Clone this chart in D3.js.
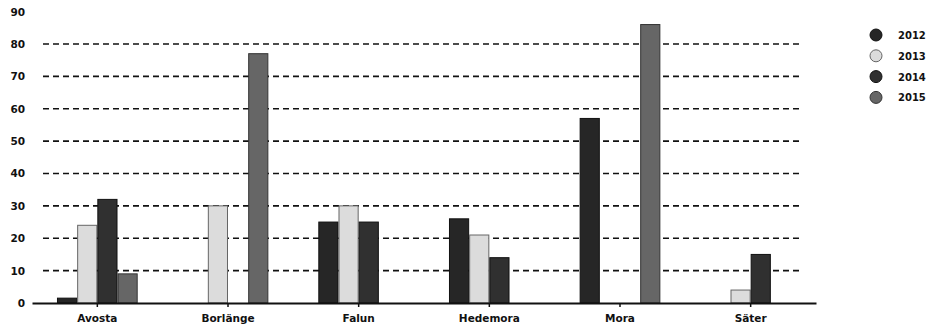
<!DOCTYPE html>
<html>
<head>
<meta charset="utf-8">
<script src="https://cdn.jsdelivr.net/npm/d3@7"></script>
<style>
  html, body { margin: 0; padding: 0; background: #fff; }
  svg { display: block; }
  text { font-family: "DejaVu Sans", "Liberation Sans", sans-serif; font-weight: bold; fill: #111; }
</style>
</head>
<body>
<svg id="chart" width="928" height="325"></svg>
<script>
const categories = ["Avosta", "Borlänge", "Falun", "Hedemora", "Mora", "Säter"];
const years = ["2012", "2013", "2014", "2015"];
const values2012 = [1.5, null, 25, 26, 57, null];
const values2013 = [24, 30, 30, 21, null, 4];
const values2014 = [32, null, 25, 14, null, 15];
const values2015 = [9, 77, null, null, 86, null];
const yTicks = [0, 10, 20, 30, 40, 50, 60, 70, 80, 90];
const gridTicks = [10, 20, 30, 40, 50, 60, 70, 80];

const seriesValues = [values2012, values2013, values2014, values2015];
const colors = ["#262626", "#dcdcdc", "#303030", "#666666"];
const strokes = ["#111", "#666", "#111", "#333"];

const svg = d3.select("#chart");

const x0 = d3.scaleBand().domain(categories).range([32, 816])
  .paddingInner(0.39).paddingOuter(0.195);
const x1 = d3.scaleBand().domain(years).range([0, x0.bandwidth()]).paddingInner(0.05);
const y = d3.scaleLinear().domain([0, 90]).range([303, 11.6]);

// gridlines
svg.append("g").selectAll("line").data(gridTicks).join("line")
  .attr("x1", 43).attr("x2", 803)
  .attr("y1", d => y(d)).attr("y2", d => y(d))
  .attr("stroke", "#111").attr("stroke-width", 1.6)
  .attr("stroke-dasharray", "6,4");

// y labels
svg.append("g").selectAll("text").data(yTicks).join("text")
  .attr("x", 25).attr("y", d => y(d) + 4)
  .attr("text-anchor", "end")
  .attr("font-size", 10.5)
  .text(d => d);

// bars
const rows = [];
categories.forEach((c, i) => {
  years.forEach((yr, j) => {
    const v = seriesValues[j][i];
    if (v !== null) rows.push({ c, yr, v, j });
  });
});
svg.append("g").selectAll("rect").data(rows).join("rect")
  .attr("x", d => x0(d.c) + x1(d.yr))
  .attr("width", x1.bandwidth())
  .attr("y", d => y(d.v))
  .attr("height", d => y(0) - y(d.v))
  .attr("fill", d => colors[d.j])
  .attr("stroke", d => strokes[d.j])
  .attr("stroke-width", 1);

// x axis
const xAxis = d3.axisBottom(x0).tickSize(4).tickSizeOuter(0);
const gx = svg.append("g").attr("transform", `translate(0,${y(0)})`).call(xAxis);
gx.select(".domain").attr("stroke", "#111").attr("stroke-width", 2.2);
gx.selectAll(".tick line").attr("stroke", "#111").attr("stroke-width", 1.5);
gx.selectAll(".tick text").attr("font-size", 10.5).attr("dy", "1.15em")
  .attr("font-family", "DejaVu Sans").attr("font-weight", "bold").attr("fill", "#111");

// legend
const lg = svg.append("g").selectAll("g").data(years).join("g")
  .attr("transform", (d, i) => `translate(876,${35 + i * 20.8})`);
lg.append("circle").attr("r", 6)
  .attr("fill", (d, i) => colors[i])
  .attr("stroke", (d, i) => strokes[i]).attr("stroke-width", 1);
lg.append("text").attr("x", 22).attr("y", 4).attr("font-size", 10).text(d => d);
</script>
</body>
</html>
